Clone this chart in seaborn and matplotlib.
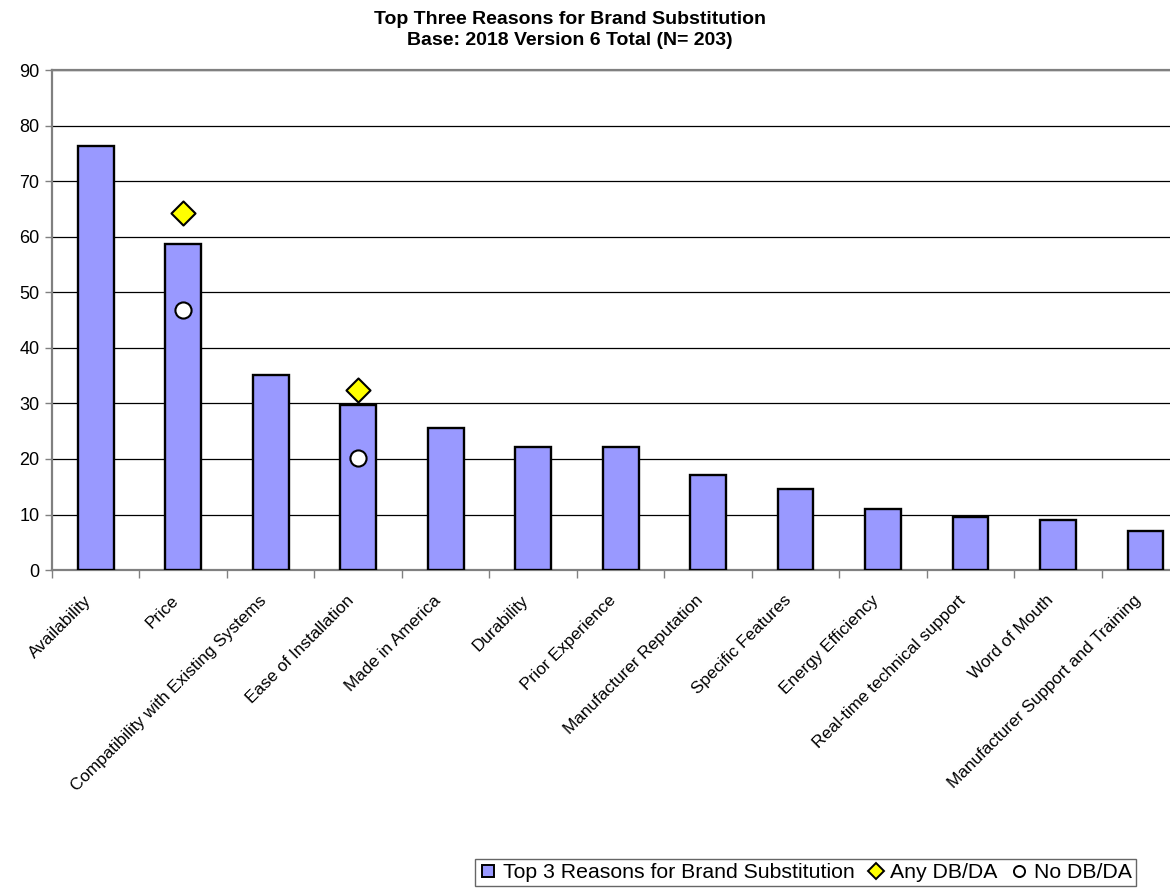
import numpy as np
import pandas as pd
import matplotlib
matplotlib.use("Agg")
import matplotlib.pyplot as plt
import matplotlib.transforms as mtransforms
from matplotlib.lines import Line2D
import seaborn as sns

# Reasons and their shares (%)
reasons = [
    "Availability", "Price", "Compatibility with Existing Systems",
    "Ease of Installation", "Made in America", "Durability",
    "Prior Experience", "Manufacturer Reputation", "Specific Features",
    "Energy Efficiency", "Real-time technical support", "Word of Mouth",
    "Manufacturer Support and Training",
]
top3_total = [76.3, 58.7, 35.2, 29.7, 25.6, 22.2, 22.1, 17.2, 14.6, 11.0, 9.5, 9.1, 7.0]
any_db_da = [np.nan, 64.2, np.nan, 32.5, np.nan, np.nan, np.nan, np.nan,
             np.nan, np.nan, np.nan, np.nan, np.nan]
no_db_da = [np.nan, 46.9, np.nan, 20.1, np.nan, np.nan, np.nan, np.nan,
            np.nan, np.nan, np.nan, np.nan, np.nan]
y_ticks = [0, 10, 20, 30, 40, 50, 60, 70, 80, 90]

df = pd.DataFrame({
    "reason": reasons,
    "top3": top3_total,
    "any": any_db_da,
    "none": no_db_da,
})

sns.set_theme(style="white")
plt.rcParams["font.family"] = ["Liberation Sans", "DejaVu Sans"]
plt.rcParams["text.color"] = "black"
plt.rcParams["xtick.color"] = "black"
plt.rcParams["ytick.color"] = "black"

fig = plt.figure(figsize=(11.7, 8.88), dpi=100)
ax = fig.add_axes([0.0444, 0.358, 0.972, 0.563])

bar_color = "#9999FF"
sns.barplot(data=df, x="reason", y="top3", order=reasons, color=bar_color,
            saturation=1, width=0.41, edgecolor="black", linewidth=1.7,
            ax=ax, zorder=3)

sns.scatterplot(data=df, x="reason", y="any", marker="D", s=150,
                color="#FFFF00", edgecolor="black", linewidth=1.5,
                ax=ax, zorder=4, legend=False)
sns.scatterplot(data=df, x="reason", y="none", marker="o", s=135,
                color="white", edgecolor="black", linewidth=1.5,
                ax=ax, zorder=4, legend=False)

ax.set_xlim(-0.5, len(reasons) - 0.5)
ax.set_ylim(0, 90)
ax.set_yticks(y_ticks)
ax.set_xlabel("")
ax.set_ylabel("")

# Horizontal gridlines
ax.yaxis.grid(True, color="black", linewidth=0.9, zorder=0)
ax.xaxis.grid(False)
ax.set_axisbelow(True)

for side in ["left", "bottom", "top", "right"]:
    ax.spines[side].set_visible(True)
    ax.spines[side].set_color("#808080")
    ax.spines[side].set_linewidth(1.6)

ax.tick_params(axis="y", which="major", direction="out", length=5,
               width=1, color="#808080", labelsize=13, pad=4, left=True,
               labelcolor="black")

# Category labels at centers, boundary ticks between categories
ax.set_xticks(range(len(reasons)))
ax.set_xticklabels(reasons, rotation=45, ha="right", va="center",
                   rotation_mode="anchor", fontsize=12.3, color="black")
ax.set_xticks(np.arange(-0.5, len(reasons), 1.0), minor=True)
ax.tick_params(axis="x", which="major", length=0, pad=20, bottom=True)
ax.tick_params(axis="x", which="minor", direction="out", length=6,
               width=1, color="#808080", bottom=True)
shift = mtransforms.ScaledTranslation(-7 / 100, 0, fig.dpi_scale_trans)
for lbl in ax.get_xticklabels():
    lbl.set_transform(lbl.get_transform() + shift)

fig.text(0.487, 0.988, "Top Three Reasons for Brand Substitution\n"
         "Base: 2018 Version 6 Total (N= 203)",
         ha="center", va="top", fontsize=14, fontweight="bold",
         linespacing=1.35, color="black")

handles = [
    Line2D([], [], linestyle="none", marker="s", markersize=9,
           markerfacecolor=bar_color, markeredgecolor="black",
           markeredgewidth=1.4, label="Top 3 Reasons for Brand Substitution"),
    Line2D([], [], linestyle="none", marker="D", markersize=8,
           markerfacecolor="#FFFF00", markeredgecolor="black",
           markeredgewidth=1.4, label="Any DB/DA"),
    Line2D([], [], linestyle="none", marker="o", markersize=8,
           markerfacecolor="white", markeredgecolor="black",
           markeredgewidth=1.4, label="No DB/DA"),
]
leg = fig.legend(handles=handles, loc="lower right",
                 bbox_to_anchor=(0.971, 0.002), ncol=3, fontsize=15.3,
                 frameon=True, fancybox=False, borderpad=0.2,
                 handlelength=0.8, handletextpad=0.3, columnspacing=0.6,
                 borderaxespad=0)
leg.get_frame().set_edgecolor("#404040")
leg.get_frame().set_linewidth(1.0)
for t in leg.get_texts():
    t.set_color("black")

fig.savefig("out.png", dpi=100)
